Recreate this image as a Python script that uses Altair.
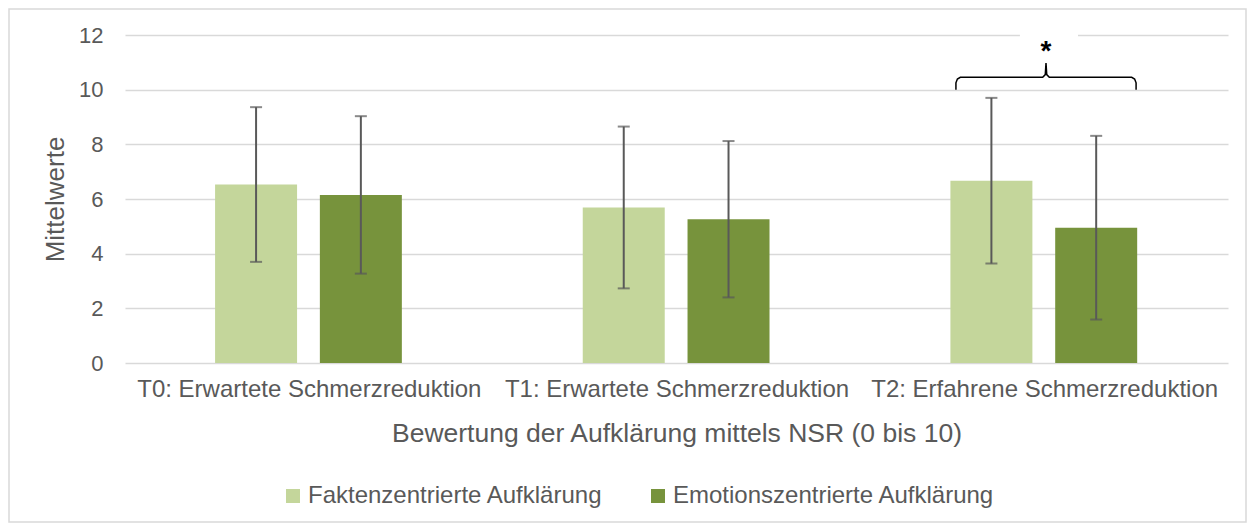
import json
import altair as alt
import pandas as pd

# ---------------- data ----------------
categories = [
    "T0: Erwartete Schmerzreduktion",
    "T1: Erwartete Schmerzreduktion",
    "T2: Erfahrene Schmerzreduktion",
]
series = ["Faktenzentrierte Aufklärung", "Emotionszentrierte Aufklärung"]
fakten_mean = [6.53, 5.69, 6.67]
fakten_sd = [2.83, 2.96, 3.03]
emotion_mean = [6.15, 5.26, 4.95]
emotion_sd = [2.88, 2.86, 3.36]
y_ticks = [0, 2, 4, 6, 8, 10, 12]
sig_category = 2          # index of the category with the significant difference
sig_label = "*"

# ---------------- styles ----------------
colors = ["#C4D69B", "#77933C"]
FONT = "Liberation Sans"
TEXT = "#595959"
GRID = "#D9D9D9"
W, H = 1103, 328
PAD_L, PAD_T = 117, 27
TOTAL_W, TOTAL_H = 1239, 515

bar_offsets = [(-0.255, -0.032), (0.030, 0.253)]

rows = []
for si, (s, means, sds) in enumerate(zip(series, [fakten_mean, emotion_mean], [fakten_sd, emotion_sd])):
    lo, hi = bar_offsets[si]
    for ci, c in enumerate(categories):
        m, sd = means[ci], sds[ci]
        rows.append(dict(cat=c, series=s, mean=m, base=0, lo_err=m - sd, hi_err=m + sd,
                         x0=ci + 0.5 + lo, x1=ci + 0.5 + hi, xc=ci + 0.5 + (lo + hi) / 2))
df = pd.DataFrame(rows)

x_scale = alt.Scale(domain=[0, len(categories)], nice=False, zero=False)
y_scale = alt.Scale(domain=[y_ticks[0], y_ticks[-1]], nice=False)

label_expr = "[" + ",".join(json.dumps(c) for c in categories) + "][floor(datum.value)]"
X_TITLE = "Bewertung der Aufklärung mittels NSR (0 bis 10)"
Y_TITLE = "Mittelwerte"

xaxis = alt.Axis(values=[i + 0.5 for i in range(len(categories))], labelExpr=label_expr,
                 domain=False, ticks=False, grid=False, labelPadding=14, labelLimit=0,
                 labelFontSize=24, labelColor=TEXT, labelFont=FONT,
                 titleFontSize=26.5, titleColor=TEXT, titleFont=FONT, titleFontWeight="normal",
                 titleX=W / 2, titleY=70, titleBaseline="middle", titleAlign="center")
yaxis = alt.Axis(values=y_ticks, domain=False, ticks=False, tickSize=0, grid=True,
                 gridColor=GRID, gridWidth=1.5, labelPadding=22,
                 labelFontSize=22, labelColor=TEXT, labelFont=FONT,
                 titleFontSize=26, titleColor=TEXT, titleFont=FONT, titleFontWeight="normal",
                 titleX=-70, titleY=H / 2, titleBaseline="middle", titleAlign="center", titleAngle=270)


def X(field):
    return alt.X(field, scale=x_scale, axis=xaxis, title=X_TITLE)


def Y(field):
    return alt.Y(field, scale=y_scale, axis=yaxis, title=Y_TITLE)


bars = alt.Chart(df).mark_bar().encode(
    x=X("x0:Q"), x2="x1:Q", y=Y("mean:Q"), y2="base:Q",
    color=alt.Color("series:N", scale=alt.Scale(domain=series, range=colors),
                    legend=alt.Legend(title=None, orient="none", legendX=156, legendY=449,
                                      direction="horizontal", symbolType="square",
                                      symbolSize=196, symbolStrokeWidth=0, labelLimit=0,
                                      labelFontSize=24, labelColor=TEXT, labelFont=FONT,
                                      labelOffset=3, columnPadding=43)),
)

err = alt.Chart(df).mark_rule(color=TEXT, strokeWidth=2).encode(
    x=X("xc:Q"), y=Y("lo_err:Q"), y2="hi_err:Q")

caps = alt.Chart(df).transform_fold(["lo_err", "hi_err"], as_=["k", "v"]).mark_tick(
    orient="horizontal", size=12, thickness=2, color=TEXT).encode(
    x=X("xc:Q"), y=Y("v:Q"))

# significance bracket over the selected category
c0 = sig_category + 0.5
xl, xr, xm = c0 - 0.24, c0 + 0.25, c0 + 0.005
yb, ym, yt = 10.0, 10.45, 10.97
bracket_df = pd.DataFrame({
    "bx": [xl, xl, xl + 0.004, xl + 0.012, xm - 0.009, xm - 0.002, xm,
           xm + 0.002, xm + 0.009, xr - 0.012, xr - 0.004, xr, xr],
    "by": [yb, ym - 0.2, ym - 0.06, ym, ym, ym + 0.1, yt,
           ym + 0.1, ym, ym, ym - 0.06, ym - 0.2, yb],
})
bracket_df["o"] = range(len(bracket_df))
bracket = alt.Chart(bracket_df).mark_line(color="black", strokeWidth=1.5).encode(
    x=X("bx:Q"), y=Y("by:Q"), order="o:Q")

star_df = pd.DataFrame({"sx": [xm], "sy": [11.1], "t": [sig_label],
                        "rx0": [c0 - 0.066], "rx1": [c0 + 0.092], "ry0": [11.5], "ry1": [12.3]})
star_bg = alt.Chart(star_df).mark_rect(color="white").encode(
    x=X("rx0:Q"), x2="rx1:Q", y=Y("ry0:Q"), y2="ry1:Q")
star = alt.Chart(star_df).mark_text(fontSize=28, fontWeight="bold", font=FONT, color="black",
                                    baseline="alphabetic", align="center").encode(
    x=X("sx:Q"), y=Y("sy:Q"), text="t:N")

frame = alt.Chart(star_df).mark_rect(fill=None, stroke=GRID, strokeWidth=1.5).encode(
    x=alt.value(-PAD_L + 1), x2=alt.value(TOTAL_W - PAD_L - 1),
    y=alt.value(-PAD_T + 1), y2=alt.value(TOTAL_H - PAD_T - 1))

chart = alt.layer(star_bg, bars, err, caps, bracket, star, frame).properties(
    width=W, height=H,
    autosize=alt.AutoSizeParams(type="none"),
    padding={"left": PAD_L, "top": PAD_T, "right": TOTAL_W - PAD_L - W, "bottom": TOTAL_H - PAD_T - H},
    background="white",
).configure_view(stroke=None)

chart.save("out.html", embed_options={"renderer": "svg", "actions": False})
